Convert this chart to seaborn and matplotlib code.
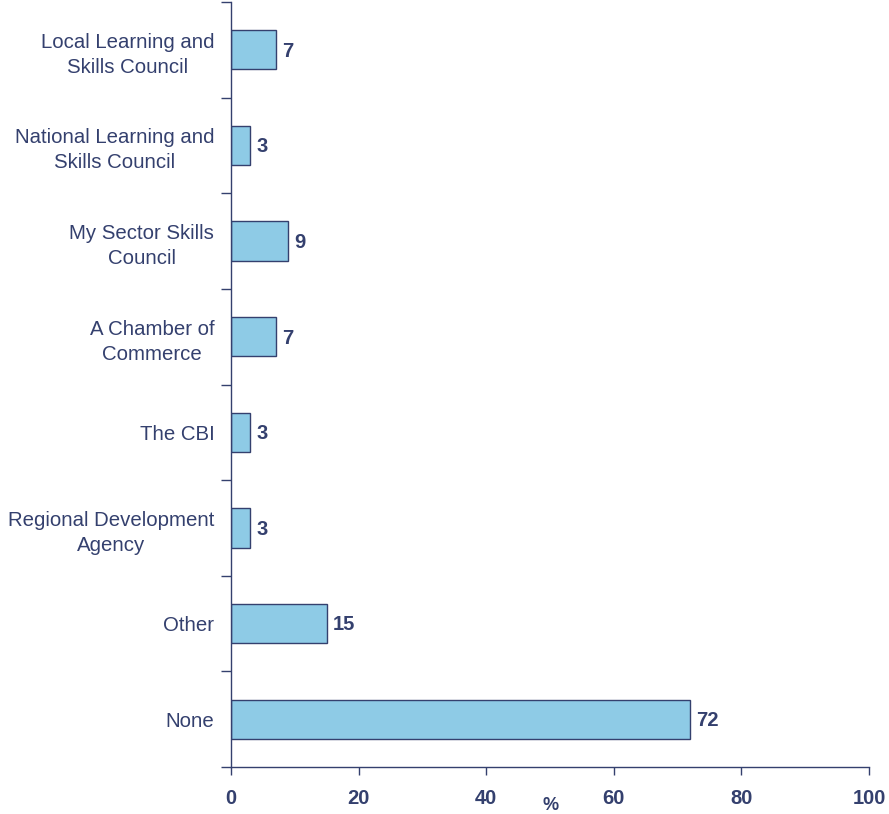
import matplotlib
matplotlib.use("Agg")
import matplotlib.pyplot as plt
import seaborn as sns
import pandas as pd
import numpy as np

categories = [
    "Local Learning and\nSkills Council",
    "National Learning and\nSkills Council",
    "My Sector Skills\nCouncil",
    "A Chamber of\nCommerce",
    "The CBI",
    "Regional Development\nAgency",
    "Other",
    "None",
]
values = [7, 3, 9, 7, 3, 3, 15, 72]
x_ticks = [0, 20, 40, 60, 80, 100]

navy = "#34406E"
fill = "#8ECBE6"

sns.set_theme(style="white")
plt.rcParams["font.family"] = ["Liberation Sans", "DejaVu Sans"]

df = pd.DataFrame({"org": categories, "pct": values})

fig = plt.figure(figsize=(8.89, 8.14), dpi=100)
ax = fig.add_axes([231 / 889, 47 / 814, 638 / 889, 765 / 814])

sns.barplot(data=df, y="org", x="pct", orient="h", color=fill,
            edgecolor=navy, linewidth=1.0, width=0.41, saturation=1, ax=ax)

for i, v in enumerate(values):
    ax.annotate(f"{v}", xy=(v, i), xytext=(4.5, -1), textcoords="offset points",
                va="center", ha="left", fontsize=14.5, fontweight="bold", color=navy)

ax.set_xlim(0, 100)
ax.set_ylim(len(categories) - 0.5, -0.5)
ax.set_xticks(x_ticks)
ax.set_xticklabels([str(t) for t in x_ticks], fontsize=14.5, fontweight="bold", color=navy)
ax.set_yticks(range(len(categories)))
ax.set_yticklabels(categories, fontsize=14.7, color=navy, linespacing=1.4)
ax.set_yticks(np.arange(-0.5, len(categories), 1.0), minor=True)

ax.tick_params(axis="y", which="major", length=0, pad=12)
ax.tick_params(axis="y", which="minor", left=True, length=7, width=1, color=navy)
ax.tick_params(axis="x", which="major", bottom=True, length=6, width=1, color=navy, pad=10)
for lbl in ax.get_yticklabels():
    lbl.set_horizontalalignment("right")
    lbl.set_multialignment("center")

ax.set_xlabel("")
ax.set_ylabel("")
ax.text((551 - 231) / 638, -(806 - 767) / 765, "%", transform=ax.transAxes,
        ha="center", va="center", fontsize=13, fontweight="bold", color=navy)

for side in ["top", "right"]:
    ax.spines[side].set_visible(False)
for side in ["left", "bottom"]:
    ax.spines[side].set_color(navy)
    ax.spines[side].set_linewidth(1.0)

fig.savefig("out.png", dpi=100, facecolor="white")
